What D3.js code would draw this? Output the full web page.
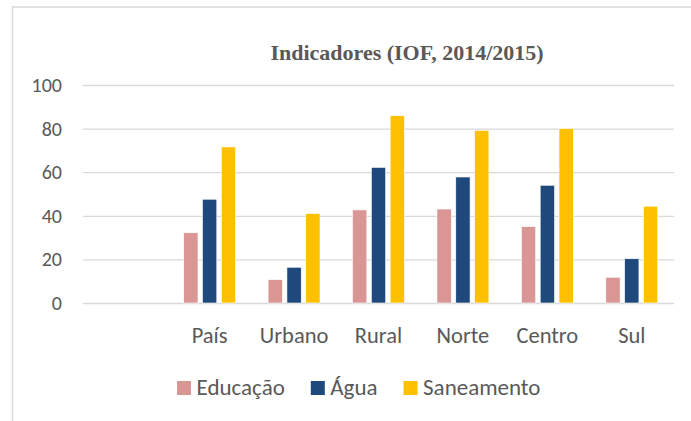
<!DOCTYPE html>
<html>
<head>
<meta charset="utf-8">
<script src="https://cdn.jsdelivr.net/npm/d3@7"></script>
<style>
  body { margin: 0; background: #fff; }
  svg { display: block; }
  .tick-label, .x-label, .legend-label { font-family: Calibri, Carlito, Lato, sans-serif; fill: #595959; }
  .title { font-family: "Times New Roman", "Liberation Serif", serif; font-weight: bold; fill: #595959; }
</style>
</head>
<body>
<div id="wrapper"></div>
<script>
  // data
  const categories = ["", "País", "Urbano", "Rural", "Norte", "Centro", "Sul"];
  const series = ["Educação", "Água", "Saneamento"];
  const educacao   = [null, 32.2, 10.7, 42.7, 43.1, 35.0, 11.8];
  const agua       = [null, 47.6, 16.4, 62.2, 57.8, 54.0, 20.3];
  const saneamento = [null, 71.6, 41.0, 85.9, 79.2, 80.0, 44.4];
  const yTicks = [0, 20, 40, 60, 80, 100];
  const colors = ["#d99694", "#1f497d", "#ffc000"];

  const seriesValues = [educacao, agua, saneamento];
  const dataset = categories.map((c, i) => ({
    category: c,
    values: series.map((s, j) => ({ series: s, value: seriesValues[j][i] }))
  }));

  // dimensions
  let dimensions = {
    width: 691,
    height: 421,
    margin: { top: 85, right: 17, bottom: 118, left: 83 },
  };
  dimensions.boundedWidth = dimensions.width - dimensions.margin.left - dimensions.margin.right;
  dimensions.boundedHeight = dimensions.height - dimensions.margin.top - dimensions.margin.bottom;

  const wrapper = d3.select("#wrapper")
    .append("svg")
      .attr("width", dimensions.width)
      .attr("height", dimensions.height);

  // chart area border (runs off right and bottom)
  wrapper.append("rect")
      .attr("x", 12.5)
      .attr("y", 7)
      .attr("width", 720)
      .attr("height", 440)
      .attr("fill", "none")
      .attr("stroke", "#d9d9d9")
      .attr("stroke-width", 1.5);

  wrapper.append("text")
      .attr("class", "title")
      .attr("x", 407)
      .attr("y", 60)
      .attr("text-anchor", "middle")
      .style("font-size", "22px")
      .text("Indicadores (IOF, 2014/2015)");

  const bounds = wrapper.append("g")
      .attr("transform", `translate(${dimensions.margin.left}, ${dimensions.margin.top})`);

  // scales
  const x0 = d3.scaleBand()
    .domain(categories)
    .range([0, dimensions.boundedWidth])
    .paddingInner(0.385)
    .paddingOuter(0.1925);

  const x1 = d3.scaleBand()
    .domain(series)
    .range([0, x0.bandwidth()])
    .paddingInner(0.24);

  const yScale = d3.scaleLinear()
    .domain([0, 100])
    .range([dimensions.boundedHeight, 0]);

  const colorScale = d3.scaleOrdinal().domain(series).range(colors);

  // gridlines + y labels
  const yAxisGenerator = d3.axisLeft(yScale)
    .tickValues(yTicks)
    .tickSize(-dimensions.boundedWidth)
    .tickPadding(21);

  const yAxis = bounds.append("g").call(yAxisGenerator);
  yAxis.select(".domain").remove();
  yAxis.selectAll(".tick line")
      .attr("stroke", "#d9d9d9")
      .attr("stroke-width", 1.3);
  yAxis.selectAll(".tick text")
      .attr("class", "tick-label")
      .attr("font-family", null)
      .style("font-size", "20px");

  // bars
  const groups = bounds.selectAll(".group")
    .data(dataset)
    .join("g")
      .attr("class", "group")
      .attr("transform", d => `translate(${x0(d.category)}, 0)`);

  groups.selectAll("rect")
    .data(d => d.values.filter(v => v.value != null))
    .join("rect")
      .attr("x", d => x1(d.series))
      .attr("width", x1.bandwidth())
      .attr("y", d => yScale(d.value))
      .attr("height", d => yScale(0) - yScale(d.value))
      .attr("fill", d => colorScale(d.series))
      .attr("stroke", "#fff")
      .attr("stroke-width", 0.6);

  // x labels
  const xAxisGenerator = d3.axisBottom(x0).tickSize(0).tickPadding(0);
  const xAxis = bounds.append("g")
      .attr("transform", `translate(0, ${dimensions.boundedHeight})`)
      .call(xAxisGenerator);
  xAxis.select(".domain").remove();
  xAxis.selectAll(".tick text")
      .attr("class", "x-label")
      .attr("font-family", null)
      .attr("dy", null)
      .attr("y", 39.5)
      .style("font-size", "22.5px");

  // legend
  const legend = wrapper.append("g")
      .attr("transform", "translate(177, 381)");
  let legendX = 0;
  series.forEach((s, i) => {
    const item = legend.append("g").attr("transform", `translate(${legendX}, 0)`);
    item.append("rect")
        .attr("width", 14)
        .attr("height", 14)
        .attr("fill", colorScale(s));
    const label = item.append("text")
        .attr("class", "legend-label")
        .attr("x", 19.5)
        .attr("y", 14)
        .style("font-size", "23px")
        .text(s);
    legendX += 19.5 + label.node().getComputedTextLength() + 26;
  });
</script>
</body>
</html>
